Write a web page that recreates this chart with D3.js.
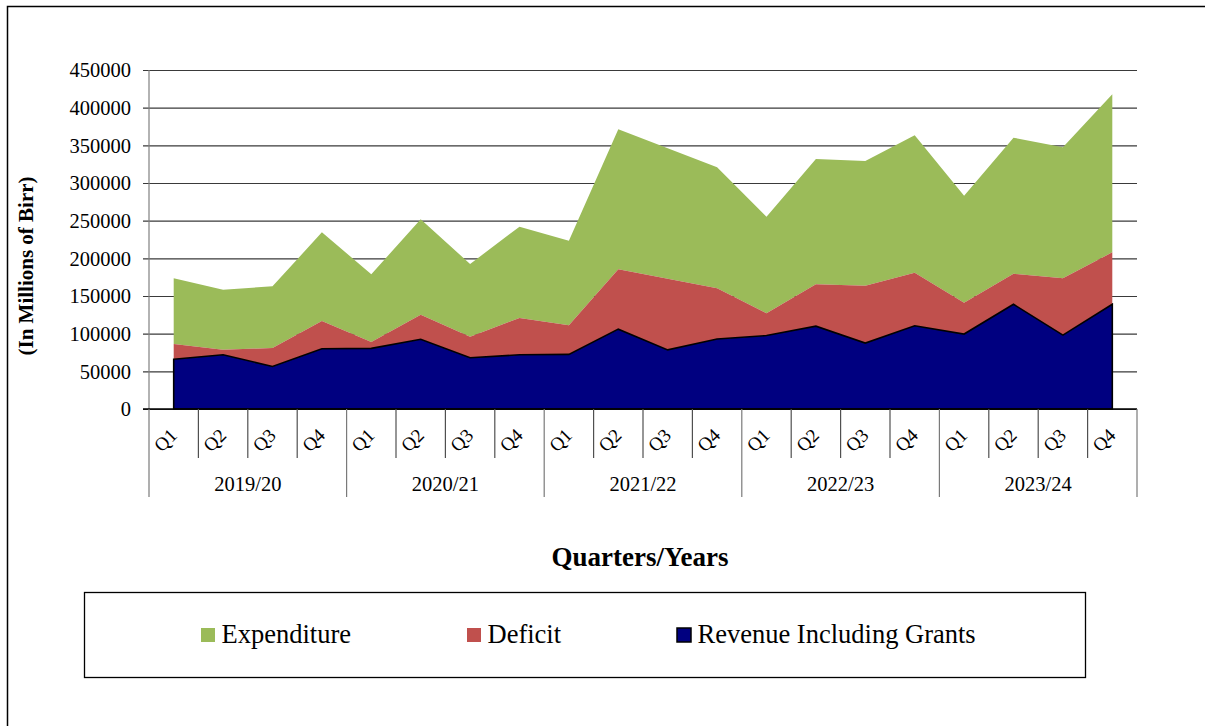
<!DOCTYPE html>
<html>
<head>
<meta charset="utf-8">
<script src="https://cdn.jsdelivr.net/npm/d3@7"></script>
<style>
  html, body { margin: 0; padding: 0; background: #fff; }
  svg { display: block; font-family: "Liberation Serif", "Times New Roman", serif; }
</style>
</head>
<body>
<svg id="chart" width="1205" height="726"></svg>
<script>
// Quarterly fiscal data, millions of Birr
const years = ["2019/20", "2020/21", "2021/22", "2022/23", "2023/24"];
const quarters = ["Q1", "Q2", "Q3", "Q4"];

const revenue = [66000, 72000, 56500, 80000, 80500, 92500, 68000, 72000, 72500, 106000,
                 78500, 93000, 97500, 110000, 87500, 110500, 99500, 139000, 98000, 139000];
const deficit = [20300, 6700, 24500, 36800, 8400, 32700, 28000, 48800, 38800, 79400,
                 94500, 67200, 29500, 55500, 76200, 70500, 41600, 40600, 75400, 69000];
const expenditure = [87200, 79700, 81800, 117700, 90000, 126600, 96500, 121200, 111900, 185800,
                     173000, 160600, 128300, 166300, 165500, 182300, 142100, 180600, 173900, 209700];

const yTicks = [0, 50000, 100000, 150000, 200000, 250000, 300000, 350000, 400000, 450000];

const seriesNames = ["Revenue Including Grants", "Deficit", "Expenditure"];
const colors = { "Revenue Including Grants": "#000080", "Deficit": "#C0504D", "Expenditure": "#9BBB59" };

// rows for the stack
const rows = revenue.map((v, i) => ({
  idx: i,
  year: years[Math.floor(i / 4)],
  q: quarters[i % 4],
  "Revenue Including Grants": v,
  "Deficit": deficit[i],
  "Expenditure": expenditure[i]
}));

const svg = d3.select("#chart");

// outer frame
svg.append("rect").attr("x", 7.5).attr("y", 6.5).attr("width", 1220).attr("height", 740)
  .attr("fill", "none").attr("stroke", "#000").attr("stroke-width", 1.5);

const x = d3.scaleBand().domain(d3.range(rows.length)).range([149, 1137]).paddingInner(0).paddingOuter(0);
const y = d3.scaleLinear().domain([0, 450000]).range([409, 70]);
const cx = i => x(i) + x.bandwidth() / 2;

// horizontal gridlines with left tick marks
svg.append("g").attr("transform", "translate(149,0)")
  .call(d3.axisLeft(y).tickValues(yTicks).tickSizeInner(-988).tickSizeOuter(0).tickFormat(""))
  .call(g => g.select(".domain").remove())
  .call(g => g.selectAll(".tick line").attr("x1", -6).attr("stroke", "#3a3a3a").attr("stroke-width", 1.2));

// y axis line
svg.append("line").attr("x1", 149).attr("x2", 149).attr("y1", 70).attr("y2", 409)
  .attr("stroke", "#808080").attr("stroke-width", 1.2);

// y tick labels
svg.append("g").selectAll("text").data(yTicks).join("text")
  .attr("x", 131).attr("y", d => y(d)).attr("dy", "0.35em")
  .attr("text-anchor", "end").attr("font-size", 20.5).attr("fill", "#000")
  .text(d => d);

// stacked areas
const stack = d3.stack().keys(seriesNames);
const layers = stack(rows);
const area = d3.area()
  .x((d, i) => cx(i))
  .y0(d => y(d[0]))
  .y1(d => y(d[1]));

svg.append("g").selectAll("path").data(layers.slice().reverse()).join("path")
  .attr("d", area)
  .attr("fill", d => colors[d.key])
  .attr("stroke", d => d.key === "Revenue Including Grants" ? "#000" : "none")
  .attr("stroke-width", 1.6)
  .attr("stroke-linejoin", "miter");

// category axis baseline
svg.append("line").attr("x1", 143).attr("x2", 1137).attr("y1", 409).attr("y2", 409)
  .attr("stroke", "#000").attr("stroke-width", 1.4);

// quarter and year separators
const seps = d3.range(rows.length + 1);
svg.append("g").selectAll("line").data(seps).join("line")
  .attr("x1", i => i < rows.length ? x(i) : x.range()[1])
  .attr("x2", i => i < rows.length ? x(i) : x.range()[1])
  .attr("y1", 409)
  .attr("y2", i => i % 4 === 0 ? 497 : 458)
  .attr("stroke", i => i % 4 === 0 ? "#7a7a7a" : "#505050")
  .attr("stroke-width", 1.2);

// quarter labels
svg.append("g").selectAll("text").data(rows).join("text")
  .attr("transform", (d, i) => `translate(${cx(i) - 8.5},440) rotate(-45)`)
  .attr("text-anchor", "middle").attr("dy", "0.35em")
  .attr("font-size", 19).attr("fill", "#000")
  .text(d => d.q);

// year labels
svg.append("g").selectAll("text").data(years).join("text")
  .attr("x", (d, k) => (x(k * 4) + (k * 4 + 4 < rows.length ? x(k * 4 + 4) : x.range()[1])) / 2)
  .attr("y", 491)
  .attr("text-anchor", "middle").attr("font-size", 20.5).attr("fill", "#000")
  .text(d => d);

// axis titles
svg.append("text").attr("x", 640).attr("y", 566).attr("text-anchor", "middle")
  .attr("font-size", 27).attr("font-weight", "bold").text("Quarters/Years");

svg.append("text").attr("transform", "translate(33,266) rotate(-90)")
  .attr("text-anchor", "middle").attr("font-size", 21).attr("font-weight", "bold")
  .text("(In Millions of Birr)");

// legend
svg.append("rect").attr("x", 84.5).attr("y", 592.5).attr("width", 1001).attr("height", 85)
  .attr("fill", "none").attr("stroke", "#000").attr("stroke-width", 1.3);

const legendItems = [
  { key: "Expenditure", x: 201 },
  { key: "Deficit", x: 467 },
  { key: "Revenue Including Grants", x: 677 }
];
const lg = svg.append("g").selectAll("g").data(legendItems).join("g")
  .attr("transform", d => `translate(${d.x},628)`);
lg.append("rect").attr("width", 14).attr("height", 14)
  .attr("fill", d => colors[d.key])
  .attr("stroke", d => d.key === "Revenue Including Grants" ? "#000" : "none")
  .attr("stroke-width", 1.5);
lg.append("text").attr("x", 20.5).attr("y", 14.5).attr("font-size", 26.5).attr("fill", "#000")
  .text(d => d.key);
</script>
</body>
</html>
